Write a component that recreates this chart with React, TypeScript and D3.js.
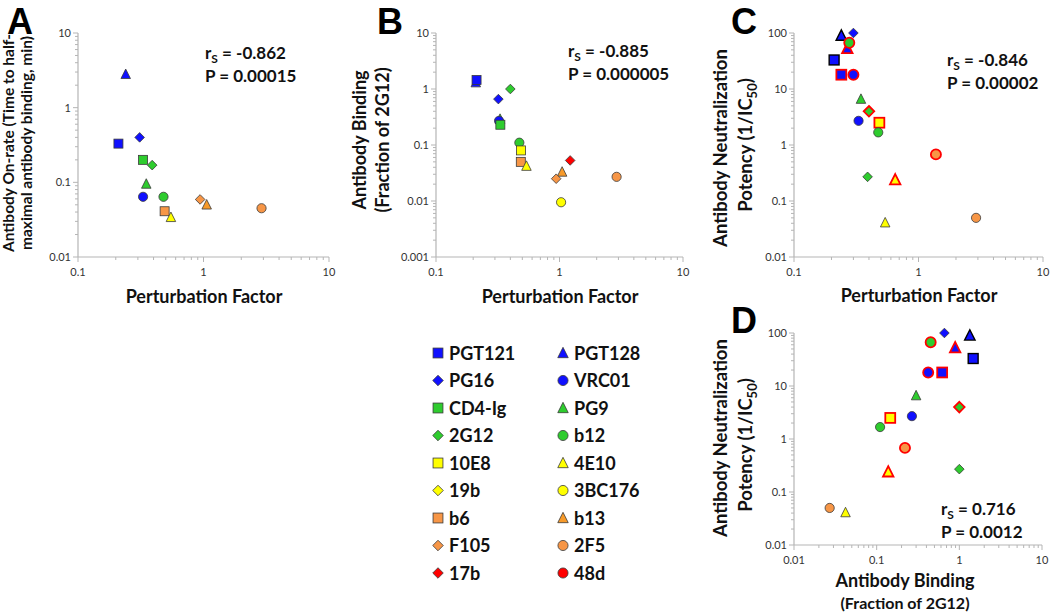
import React from "react";
import * as d3 from "d3";

// legend (two columns)
const legendLeft = ["PGT121", "PG16", "CD4-Ig", "2G12", "10E8", "19b", "b6", "F105", "17b"];
const legendRight = ["PGT128", "VRC01", "PG9", "b12", "4E10", "3BC176", "b13", "2F5", "48d"];

// panel A: perturbation factor vs on-rate
const onRateIds = ["PGT128", "PG16", "PGT121", "CD4-Ig", "2G12", "PG9", "VRC01", "b12", "b6", "4E10", "F105", "b13", "2F5"];
const onRatePF = [0.24, 0.31, 0.21, 0.33, 0.39, 0.35, 0.33, 0.48, 0.49, 0.55, 0.94, 1.06, 2.9];
const onRateT = [2.8, 0.4, 0.33, 0.2, 0.17, 0.095, 0.064, 0.064, 0.041, 0.034, 0.059, 0.05, 0.045];

// panel B: perturbation factor vs binding
const bindingIds = ["PGT128", "PGT121", "PG16", "2G12", "PG9", "VRC01", "CD4-Ig", "b12", "10E8", "b6", "4E10", "17b", "b13", "F105", "3BC176", "2F5"];
const bindingPF = [0.21, 0.213, 0.32, 0.4, 0.33, 0.324, 0.332, 0.473, 0.488, 0.486, 0.54, 1.22, 1.05, 0.94, 1.03, 2.9];
const bindingVal = [1.3, 1.45, 0.66, 1.0, 0.29, 0.27, 0.23, 0.11, 0.08, 0.05, 0.042, 0.053, 0.033, 0.025, 0.0095, 0.027];

// panels C and D: neutralization potency ("*" = red outlined marker)
const potencyIds = ["PGT128", "PG16", "PGT128*", "b12*", "PGT121", "PGT121*", "VRC01*", "PG9", "2G12*", "VRC01", "10E8*", "b12", "2F5*", "2G12", "4E10*", "4E10", "2F5"];
const potencyPF = [0.24, 0.3, 0.268, 0.278, 0.21, 0.24, 0.3, 0.345, 0.4, 0.33, 0.485, 0.475, 1.38, 0.39, 0.65, 0.54, 2.9];
const potencyBinding = [1.34, 0.66, 0.89, 0.45, 1.47, 0.62, 0.42, 0.3, 1.0, 0.267, 0.146, 0.11, 0.22, 1.0, 0.138, 0.042, 0.027];
const potencyVal = [90, 100, 53, 67, 33, 18, 18, 6.6, 4.0, 2.7, 2.5, 1.68, 0.68, 0.27, 0.24, 0.041, 0.05];

// tick labels
const ticksPF = [0.1, 1, 10];
const ticksOnRate = [0.01, 0.1, 1, 10];
const ticksBinding = [0.001, 0.01, 0.1, 1, 10];
const ticksPotency = [0.01, 0.1, 1, 10, 100];
const ticksBindingD = [0.01, 0.1, 1, 10];

const BLUE = "#1010ff";
const GREEN = "#2ecc2e";
const YELLOW = "#ffff00";
const ORANGE = "#f79646";
const RED = "#ff0000";

const style: Record<string, [string, string]> = {
  PGT121: ["square", BLUE], PG16: ["diamond", BLUE], "CD4-Ig": ["square", GREEN], "2G12": ["diamond", GREEN],
  "10E8": ["square", YELLOW], "19b": ["diamond", YELLOW], b6: ["square", ORANGE], F105: ["diamond", ORANGE],
  "17b": ["diamond", RED], PGT128: ["triangle", BLUE], VRC01: ["circle", BLUE], PG9: ["triangle", GREEN],
  b12: ["circle", GREEN], "4E10": ["triangle", YELLOW], "3BC176": ["circle", YELLOW], b13: ["triangle", "#f79a2a"],
  "2F5": ["circle", ORANGE], "48d": ["circle", RED],
};

const FONT = "Lato, 'Open Sans', sans-serif";

function Marker(props: { id: string; x: number; y: number; k?: number; stroke?: string; sw?: number }) {
  const { id, x, y } = props;
  const k = props.k || 1;
  const [shape, fill] = style[id.replace("*", "")];
  const stroke = props.stroke || "#3a3a3a";
  const sw = props.sw || 0.8;
  if (shape === "square") {
    const s = 9 * k;
    return <rect x={x - s / 2} y={y - s / 2} width={s} height={s} fill={fill} stroke={stroke} strokeWidth={sw} />;
  }
  if (shape === "circle") {
    return <circle cx={x} cy={y} r={4.6 * k} fill={fill} stroke={stroke} strokeWidth={sw} />;
  }
  if (shape === "diamond") {
    const h = 4.8 * k;
    return <path d={`M${x},${y - h}L${x + h},${y}L${x},${y + h}L${x - h},${y}Z`} fill={fill} stroke={stroke} strokeWidth={sw} />;
  }
  const w = 9.5 * k;
  const h = 8.5 * k;
  return <path d={`M${x},${y - h / 2 - 1}L${x + w / 2},${y + h / 2}L${x - w / 2},${y + h / 2}Z`} fill={fill} stroke={stroke} strokeWidth={sw} />;
}

function LogAxes(props: { x: d3.ScaleLogarithmic<number, number>; y: d3.ScaleLogarithmic<number, number>; xLabels: number[]; yLabels: number[] }) {
  const { x, y, xLabels, yLabels } = props;
  const [x0, x1] = x.range();
  const [y0, y1] = y.range();
  const isMajor = (v: number) => Math.abs(Math.log10(v) - Math.round(Math.log10(v))) < 1e-6;
  const axisColor = "#b5b5b5";
  return (
    <g>
      <line x1={x0} x2={x1} y1={y0} y2={y0} stroke={axisColor} strokeWidth={1.2} />
      <line x1={x0} x2={x0} y1={y0} y2={y1} stroke={axisColor} strokeWidth={1.2} />
      {x.ticks().map((v, i) => (
        <line key={"xt" + i} x1={x(v)} x2={x(v)} y1={y0} y2={y0 + (isMajor(v) ? 5 : 3)} stroke={axisColor} />
      ))}
      {y.ticks().map((v, i) => (
        <line key={"yt" + i} x1={x0} x2={x0 - (isMajor(v) ? 5 : 3)} y1={y(v)} y2={y(v)} stroke={axisColor} />
      ))}
      {xLabels.map((v, i) => (
        <text key={"xl" + i} x={x(v)} y={y0 + 19} textAnchor="middle" fontSize={11} fill="#333" fontFamily={FONT}>
          {String(v)}
        </text>
      ))}
      {yLabels.map((v, i) => (
        <text key={"yl" + i} x={x0 - 7} y={y(v) + 4} textAnchor="end" fontSize={11} fill="#333" fontFamily={FONT}>
          {String(v)}
        </text>
      ))}
    </g>
  );
}

function Stats(props: { x: number; y: number; r: string; p: string }) {
  const { x, y, r, p } = props;
  return (
    <g fontFamily={FONT} fontWeight="bold" fontSize={17} fill="#111">
      <text x={x} y={y}>
        r<tspan fontSize={12} dy={4}>S</tspan>
        <tspan dy={-4}> = {r}</tspan>
      </text>
      <text x={x} y={y + 23}>P = {p}</text>
    </g>
  );
}

function PanelLetter(props: { x: number; y: number; t: string }) {
  return (
    <text x={props.x} y={props.y} fontFamily="'Liberation Sans', Arial, sans-serif" fontWeight="bold" fontSize={36} fill="#000">
      {props.t}
    </text>
  );
}

function YTitle(props: { x: number; y: number; size: number; children: React.ReactNode }) {
  return (
    <text transform={`translate(${props.x},${props.y}) rotate(-90)`} textAnchor="middle" fontFamily={FONT} fontWeight="bold" fontSize={props.size} fill="#111">
      {props.children}
    </text>
  );
}

const potencyStroke = (id: string): [string, number, number] => {
  if (id.endsWith("*")) return [RED, 1.8, 1.1];
  if (id === "PGT128" || id === "PGT121") return ["#000", 1.4, 1.1];
  return ["#3a3a3a", 0.8, 1];
};

export default function App() {
  const xA = d3.scaleLog().domain([0.1, 10]).range([78, 329]);
  const yA = d3.scaleLog().domain([0.01, 10]).range([257, 33]);
  const xB = d3.scaleLog().domain([0.1, 10]).range([436, 683]);
  const yB = d3.scaleLog().domain([0.001, 10]).range([257, 33]);
  const xC = d3.scaleLog().domain([0.1, 10]).range([794, 1043]);
  const yC = d3.scaleLog().domain([0.01, 100]).range([257, 33]);
  const xD = d3.scaleLog().domain([0.01, 10]).range([794, 1042]);
  const yD = d3.scaleLog().domain([0.01, 100]).range([545, 333]);

  return (
    <svg width={1050} height={612} style={{ position: "absolute", left: 0, top: 0, background: "#fff" }}>
      <rect width={1050} height={612} fill="#fff" />

      {/* Panel A */}
      <PanelLetter x={7} y={34} t="A" />
      <LogAxes x={xA} y={yA} xLabels={ticksPF} yLabels={ticksOnRate} />
      <YTitle x={14} y={143} size={15.5}>Antibody On-rate (Time to half-</YTitle>
      <YTitle x={32} y={143} size={15.5}>maximal antibody binding, min)</YTitle>
      <text x={204} y={303} textAnchor="middle" fontFamily={FONT} fontWeight="bold" fontSize={18} fill="#111">Perturbation Factor</text>
      <Stats x={205} y={59} r="-0.862" p="0.00015" />
      {onRateIds.map((id, i) => (
        <Marker key={"a" + i} id={id} x={xA(onRatePF[i])} y={yA(onRateT[i])} />
      ))}

      {/* Panel B */}
      <PanelLetter x={377} y={34} t="B" />
      <LogAxes x={xB} y={yB} xLabels={ticksPF} yLabels={ticksBinding} />
      <YTitle x={366} y={140} size={18}>Antibody Binding</YTitle>
      <YTitle x={389} y={140} size={18}>(Fraction of 2G12)</YTitle>
      <text x={560} y={303} textAnchor="middle" fontFamily={FONT} fontWeight="bold" fontSize={18} fill="#111">Perturbation Factor</text>
      <Stats x={568} y={57} r="-0.885" p="0.000005" />
      {bindingIds.map((id, i) => (
        <Marker key={"b" + i} id={id} x={xB(bindingPF[i])} y={yB(bindingVal[i])} />
      ))}

      {/* Panel C */}
      <PanelLetter x={731} y={34} t="C" />
      <LogAxes x={xC} y={yC} xLabels={ticksPF} yLabels={ticksPotency} />
      <YTitle x={727} y={148} size={18.5}>Antibody Neutralization</YTitle>
      <YTitle x={752} y={145} size={18.5}>
        Potency  (1/IC<tspan fontSize={13} dy={5}>50</tspan><tspan dy={-5}>)</tspan>
      </YTitle>
      <text x={919} y={302} textAnchor="middle" fontFamily={FONT} fontWeight="bold" fontSize={18} fill="#111">Perturbation Factor</text>
      <Stats x={947} y={66} r="-0.846" p="0.00002" />
      {potencyIds.map((id, i) => {
        const [s, w, k] = potencyStroke(id);
        return <Marker key={"c" + i} id={id} x={xC(potencyPF[i])} y={yC(potencyVal[i])} stroke={s} sw={w} k={k} />;
      })}

      {/* Panel D */}
      <PanelLetter x={731} y={333} t="D" />
      <LogAxes x={xD} y={yD} xLabels={ticksBindingD} yLabels={ticksPotency} />
      <YTitle x={727} y={438} size={18.5}>Antibody Neutralization</YTitle>
      <YTitle x={752} y={445} size={18.5}>
        Potency  (1/IC<tspan fontSize={13} dy={5}>50</tspan><tspan dy={-5}>)</tspan>
      </YTitle>
      <text x={905} y={587} textAnchor="middle" fontFamily={FONT} fontWeight="bold" fontSize={18} fill="#111">Antibody Binding</text>
      <text x={905} y={609} textAnchor="middle" fontFamily={FONT} fontWeight="bold" fontSize={16} fill="#111">(Fraction of 2G12)</text>
      <Stats x={941} y={515} r="0.716" p="0.0012" />
      {potencyIds.map((id, i) => {
        const [s, w, k] = potencyStroke(id);
        return <Marker key={"d" + i} id={id} x={xD(potencyBinding[i])} y={yD(potencyVal[i])} stroke={s} sw={w} k={k} />;
      })}

      {/* Legend */}
      {[legendLeft, legendRight].map((col, c) =>
        col.map((name, i) => (
          <g key={"lg" + c + i}>
            <Marker id={name} x={c === 0 ? 438 : 563} y={353 + i * 27.5} k={1.1} />
            <text x={c === 0 ? 449 : 574} y={353 + i * 27.5 + 6.5} fontFamily={FONT} fontWeight="bold" fontSize={18} fill="#111">
              {name}
            </text>
          </g>
        ))
      )}
    </svg>
  );
}
